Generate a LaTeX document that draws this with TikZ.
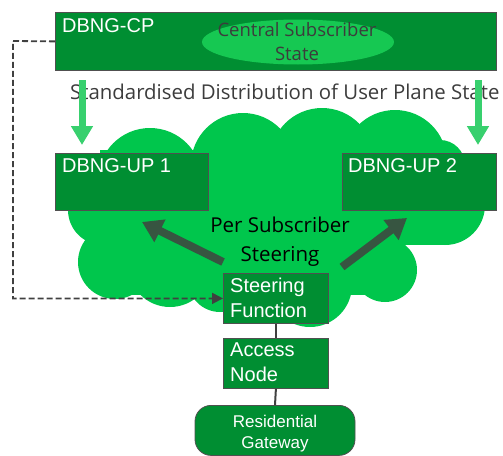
\documentclass[tikz,border=0pt]{standalone}
\usepackage{fontspec}
\setmainfont{Liberation Sans}
\newfontfamily\humfont{Open Sans}
\usetikzlibrary{arrows.meta,shapes.geometric}
\definecolor{boxgreen}{RGB}{0,142,50}
\definecolor{cloudgreen}{RGB}{0,198,76}
\definecolor{ellgreen}{RGB}{22,200,82}
\definecolor{arrowgreen}{RGB}{56,208,110}
\definecolor{steercol}{RGB}{55,85,65}
\definecolor{edgegray}{RGB}{80,80,80}
\definecolor{linegray}{RGB}{64,64,64}
\definecolor{txtgray}{RGB}{60,60,60}
\begin{document}
\begin{tikzpicture}[x=1pt,y=-1pt,
  box/.style={rectangle, draw=edgegray, line width=0.8pt, fill=boxgreen, inner sep=0pt, anchor=north west},
  boxlabel/.style={text=white, font=\fontsize{20}{25}\selectfont, inner sep=0pt},
  humtext/.style={inner sep=0pt, font=\humfont\fontsize{20.4}{24}\selectfont},
  cloudpart/.style={fill=cloudgreen},
  greenarrow/.style={draw=arrowgreen, line width=7pt, -{Triangle[width=21pt,length=19pt]}},
  steerarrow/.style={draw=steercol, line width=8pt, -{Triangle[width=24pt,length=20pt]}},
  control/.style={draw=linegray, line width=1.8pt, dash pattern=on 6pt off 3pt, -{Triangle[width=11pt,length=11pt]}},
  link/.style={draw=linegray, line width=2pt}]
\useasboundingbox (0,0) rectangle (503,455);

% cloud
\fill[cloudpart] (100,150) rectangle (445,245);
\fill[cloudpart] (110,245) rectangle (395,295);
\foreach \cx/\cy/\r in {150/180/52, 243/165/52, 322/160/52, 395/162/52, 440/165/25,
  445/205/40, 385/270/32, 310/285/42, 220/280/32, 170/265/42, 115/262/37, 103/210/35}
  \fill[cloudpart] (\cx,\cy) circle[radius=\r];

% control plane
\node[box, minimum width=441pt, minimum height=58pt] (cp) at (55,12) {};
\node[boxlabel, anchor=base west] (cplbl) at (62,32) {DBNG-CP};
\node[ellipse, fill=ellgreen, minimum width=192pt, minimum height=45pt, inner sep=0pt] (css) at (298,42) {};
\node[humtext, text=txtgray, font=\humfont\fontsize{18.5}{24}\selectfont, align=center, anchor=north] (csslbl) at (297,22) {Central Subscriber\\State};

\node[humtext, text=txtgray, anchor=base west] (std) at (70,99) {Standardised Distribution of User Plane State};

% user planes
\node[box, minimum width=153pt, minimum height=57pt] (up1) at (55,153) {};
\node[boxlabel, anchor=base west] (up1lbl) at (62,172) {DBNG-UP 1};
\node[box, minimum width=154pt, minimum height=57pt] (up2) at (342,153) {};
\node[boxlabel, anchor=base west] (up2lbl) at (348,172) {DBNG-UP 2};

% green distribution arrows
\coordinate (g1a) at (82,80);
\coordinate (g1b) at (82,145);
\coordinate (g2a) at (478,80);
\coordinate (g2b) at (478,145);
\draw[greenarrow] (g1a) -- (g1b);
\draw[greenarrow] (g2a) -- (g2b);

% steering
\node[humtext, text=black, font=\humfont\fontsize{20.5}{29}\selectfont, align=center, anchor=north] (pss) at (280,217) {Per Subscriber\\Steering};
\coordinate (s1a) at (223,262);
\coordinate (s1b) at (142,222);
\coordinate (s2a) at (342,267);
\coordinate (s2b) at (407,218);
\draw[steerarrow] (s1a) -- (s1b);
\draw[steerarrow] (s2a) -- (s2b);

% access chain
\node[box, minimum width=105pt, minimum height=50pt] (sf) at (223,273) {};
\node[boxlabel, align=left, anchor=north west] (sflbl) at (230,278) {Steering\\Function};
\node[box, minimum width=105pt, minimum height=50pt] (an) at (223,338) {};
\node[boxlabel, align=left, anchor=north west] (anlbl) at (230,343) {Access\\Node};
\node[rectangle, rounded corners=16pt, draw=edgegray, line width=0.8pt, fill=boxgreen, minimum width=160pt, minimum height=50pt, anchor=north] (rg) at (275,405) {};
\node[boxlabel, font=\fontsize{17}{21}\selectfont, align=center, anchor=north] (rglbl) at (275,415) {Residential\\Gateway};

\draw[link] (sf.south) -- (an.north);
\draw[link] (an.south) -- (rg.north);

% control connection
\coordinate (bend) at (13,41);
\draw[control] (cp.west) -- (bend) |- (sf.west);
\end{tikzpicture}
\end{document}
